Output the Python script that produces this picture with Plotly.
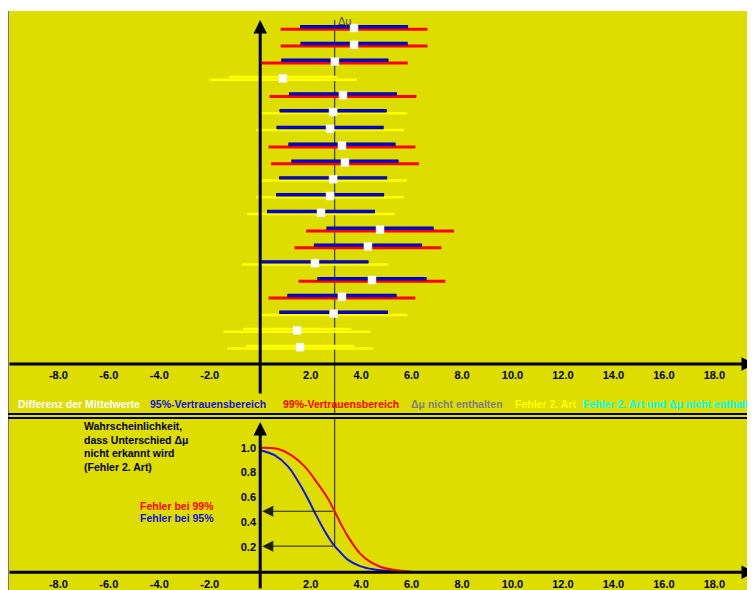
import plotly.graph_objects as go

# The page body keeps its default 8 px margin; the figure is offset by it.
PAGE_W, PAGE_H = 755, 590
OFF = 8
W, H = PAGE_W, PAGE_H   # figure size (slightly larger than the visible part)

# ---------------- data ----------------
DELTA_MU = 2.95
sample = list(range(1, 21))
means = [3.72, 3.72, 2.96, 0.90, 3.28, 2.89, 2.77, 3.24, 3.36, 2.89,
         2.77, 2.41, 4.75, 4.27, 2.17, 4.43, 3.24, 2.91, 1.46, 1.58]
lo95 = [1.58, 1.60, 0.84, -1.24, 1.14, 0.77, 0.65, 1.12, 1.24, 0.75,
        0.63, 0.27, 2.63, 2.13, 0.05, 2.27, 1.08, 0.76, -0.68, -0.56]
hi95 = [5.86, 5.84, 5.08, 3.04, 5.42, 5.01, 4.89, 5.36, 5.48, 5.03,
        4.91, 4.55, 6.87, 6.41, 4.29, 6.59, 5.40, 5.06, 3.60, 3.72]
lo99 = [0.81, 0.81, 0.07, -2.03, 0.37, -0.04, -0.16, 0.33, 0.43, -0.04,
        -0.16, -0.52, 1.82, 1.36, -0.74, 1.52, 0.33, -0.02, -1.45, -1.31]
hi99 = [6.63, 6.63, 5.85, 3.83, 6.19, 5.82, 5.70, 6.15, 6.29, 5.82,
        5.70, 5.34, 7.68, 7.18, 5.08, 7.34, 6.15, 5.84, 4.37, 4.47]

# type II error probability curves
dmu_99 = [0.0, 0.71, 1.23, 1.76, 2.29, 2.69, 2.95, 3.22, 3.48, 3.96, 4.35, 4.75, 5.28, 6.0]
p_99 = [1.0, 0.99, 0.94, 0.85, 0.71, 0.59, 0.49, 0.38, 0.286, 0.15, 0.085, 0.045, 0.02, 0.005]
dmu_95 = [0.0, 0.57, 1.10, 1.50, 1.89, 2.16, 2.56, 2.95, 3.16, 3.48, 3.96, 4.48, 5.14, 5.3]
p_95 = [0.98, 0.94, 0.85, 0.73, 0.59, 0.48, 0.33, 0.21, 0.165, 0.10, 0.05, 0.024, 0.008, 0.005]
P99_AT_DMU = 0.49
P95_AT_DMU = 0.21

xtick_vals = [-8, -6, -4, -2, 2, 4, 6, 8, 10, 12, 14, 16, 18]
xtick_text = ["-8.0", "-6.0", "-4.0", "-2.0", "2.0", "4.0", "6.0", "8.0",
              "10.0", "12.0", "14.0", "16.0", "18.0"]
ytick_vals = [0.2, 0.4, 0.6, 0.8, 1.0]
ytick_text = ["0.2", "0.4", "0.6", "0.8", "1.0"]

legend_items = ["Differenz der Mittelwerte", "95%-Vertrauensbereich", "99%-Vertrauensbereich",
                "Δμ nicht enthalten", "Fehler 2. Art", "Fehler 2. Art und Δμ nicht enthalten"]

# ---------------- style / geometry (page pixels) ----------------
BG = "#dddd00"
BLUE = "#0000ff"
RED = "#ff0000"
YEL = "#ffff00"
GRAY = "#808080"
CYAN = "#00ffff"
legend_colors = ["#ffffff", "#1414d8", RED, GRAY, YEL, CYAN]
legend_x_px = [16, 148, 281, 409, 513, 581]
FONT = "Liberation Sans"

X0_PX = 260.2          # page pixel of x = 0
X_SCALE = 25.23        # pixels per unit
xr = [(OFF - X0_PX) / X_SCALE, (PAGE_W - X0_PX) / X_SCALE]

ROW_PX = 16.8
AX_TOP_PX = 364
TOP_DOM_PX = (11, 414)
yr_top = [(AX_TOP_PX - TOP_DOM_PX[1]) / ROW_PX, (AX_TOP_PX - TOP_DOM_PX[0]) / ROW_PX]

P0_PX = 572.3
P_SCALE = 124.6
BOT_DOM_PX = (418, PAGE_H)
yr_bot = [(P0_PX - BOT_DOM_PX[1]) / P_SCALE, (P0_PX - BOT_DOM_PX[0]) / P_SCALE]


def fx(px):
    return (px - OFF) / W


def fy(px):
    return 1 - (px - OFF) / H


def vrow(px):
    return (AX_TOP_PX - px) / ROW_PX


def vp(px):
    return (P0_PX - px) / P_SCALE


def seg_color(lo, hi, base):
    has0 = lo <= 0 <= hi
    hasd = lo <= DELTA_MU <= hi
    if has0 and not hasd:
        return CYAN
    if has0:
        return YEL
    if not hasd:
        return GRAY
    return base


row_y = [21 - s for s in sample]
off = 1.3 / ROW_PX

groups = {}
for y, a, b, c, d in zip(row_y, lo95, hi95, lo99, hi99):
    for lo, hi, base, dy in ((c, d, RED, -off), (a, b, BLUE, off)):
        col = seg_color(lo, hi, base)
        g = groups.setdefault(col, ([], []))
        g[0].extend([lo, hi, None])
        g[1].extend([y + dy, y + dy, None])

fig = go.Figure()

order = [YEL, GRAY, CYAN, RED, BLUE]
for col in order:
    if col not in groups:
        continue
    xs, ys = groups[col]
    if col == BLUE:
        fig.add_trace(go.Scatter(x=xs, y=ys, mode="lines", line=dict(color="#000070", width=3.4),
                                 hoverinfo="skip", showlegend=False))
        fig.add_trace(go.Scatter(x=xs, y=ys, mode="lines", line=dict(color=BLUE, width=1.8),
                                 hoverinfo="skip", showlegend=False))
    else:
        fig.add_trace(go.Scatter(x=xs, y=ys, mode="lines",
                                 line=dict(color=col, width=2.5 if col == YEL else 3),
                                 hoverinfo="skip", showlegend=False))

fig.add_trace(go.Scatter(x=means, y=row_y, mode="markers",
                         marker=dict(symbol="square", size=8, color="white",
                                     line=dict(color="#eeeeee", width=0.5)),
                         showlegend=False))

# bottom curves
fig.add_trace(go.Scatter(x=dmu_99, y=p_99, mode="lines", line=dict(color=RED, width=2, shape="spline"),
                         xaxis="x2", yaxis="y2", showlegend=False))
fig.add_trace(go.Scatter(x=dmu_95, y=p_95, mode="lines", line=dict(color="#1010ff", width=2, shape="spline"),
                         xaxis="x2", yaxis="y2", showlegend=False))

tickfont = dict(family=FONT, size=11, color="black", weight="bold")

fig.update_layout(
    width=W, height=H,
    margin=dict(l=0, r=0, t=0, b=0),
    paper_bgcolor="white",
    plot_bgcolor="rgba(0,0,0,0)",
    showlegend=False,
    xaxis=dict(domain=[0, fx(PAGE_W)], range=xr, anchor="free", position=fy(AX_TOP_PX),
               showgrid=False, zeroline=False, showline=False,
               tickvals=xtick_vals, ticktext=xtick_text, tickfont=tickfont,
               ticks="outside", ticklen=1, tickcolor="rgba(0,0,0,0)"),
    yaxis=dict(domain=[fy(TOP_DOM_PX[1]), fy(TOP_DOM_PX[0])], range=yr_top, visible=False),
    xaxis2=dict(domain=[0, fx(PAGE_W)], range=xr, anchor="free", position=fy(P0_PX),
                showgrid=False, zeroline=False, showline=False,
                tickvals=xtick_vals, ticktext=xtick_text, tickfont=tickfont,
                ticks="outside", ticklen=1, tickcolor="rgba(0,0,0,0)"),
    yaxis2=dict(domain=[fy(BOT_DOM_PX[1]), fy(BOT_DOM_PX[0])], range=yr_bot, anchor="free",
                position=fx(X0_PX), showgrid=False, zeroline=False, showline=False,
                tickvals=ytick_vals, ticktext=ytick_text, tickfont=tickfont,
                ticks="outside", ticklen=2, tickcolor="rgba(0,0,0,0)"),
)

shapes = []
# yellow background (covers the whole visible area below the top band)
shapes.append(dict(type="rect", xref="paper", yref="paper", x0=0, x1=1,
                   y0=0, y1=fy(11), fillcolor=BG, line=dict(width=0), layer="below"))
shapes.append(dict(type="line", xref="paper", yref="paper", x0=0.5 / W, x1=0.5 / W,
                   y0=0, y1=fy(11), line=dict(color="#777777", width=1), layer="below"))
# separator double line
for ypx in (414, 418):
    shapes.append(dict(type="line", xref="paper", yref="paper", x0=0, x1=1,
                       y0=fy(ypx), y1=fy(ypx), line=dict(color="black", width=2)))
# delta mu line
shapes.append(dict(type="line", xref="x", yref="y", x0=DELTA_MU, x1=DELTA_MU,
                   y0=yr_top[0], y1=vrow(20), line=dict(color="#3a3a10", width=1.2), layer="below"))
shapes.append(dict(type="line", xref="x2", yref="y2", x0=DELTA_MU, x1=DELTA_MU,
                   y0=P95_AT_DMU, y1=yr_bot[1], line=dict(color="#3a3a10", width=1.2), layer="below"))
fig.update_layout(shapes=shapes)

ann = []
# axes with arrows
ann.append(dict(xref="x", yref="y", axref="x", ayref="y", x=xr[1], y=0, ax=xr[0], ay=0,
                text="", showarrow=True, arrowhead=2, arrowwidth=3, arrowsize=0.9, arrowcolor="black"))
ann.append(dict(xref="x", yref="y", axref="x", ayref="y", x=0, y=vrow(20), ax=0, ay=vrow(395),
                text="", showarrow=True, arrowhead=2, arrowwidth=3, arrowsize=0.9, arrowcolor="black"))
ann.append(dict(xref="x2", yref="y2", axref="x2", ayref="y2", x=xr[1], y=0, ax=xr[0], ay=0,
                text="", showarrow=True, arrowhead=2, arrowwidth=3, arrowsize=0.9, arrowcolor="black"))
ann.append(dict(xref="x2", yref="y2", axref="x2", ayref="y2", x=0, y=vp(422), ax=0, ay=yr_bot[0],
                text="", showarrow=True, arrowhead=2, arrowwidth=3, arrowsize=0.9, arrowcolor="black"))
# reading arrows in bottom panel
for pv in (P99_AT_DMU, P95_AT_DMU):
    ann.append(dict(xref="x2", yref="y2", axref="x2", ayref="y2", x=0.08, y=pv, ax=DELTA_MU, ay=pv,
                    text="", showarrow=True, arrowhead=2, arrowwidth=1, arrowsize=2.2,
                    arrowcolor="#202000"))
# Δμ label
ann.append(dict(xref="x", yref="paper", x=DELTA_MU + 0.04, y=fy(21), text="Δμ", showarrow=False,
                xanchor="left", yanchor="middle", font=dict(family=FONT, size=11, color="#4a4a30")))
# x labels at the arrow ends
for ypx in (384, 594):
    ann.append(dict(xref="paper", yref="paper", x=fx(749), y=fy(ypx), text="<b>x</b>", showarrow=False,
                    xanchor="left", yanchor="middle", font=dict(family=FONT, size=11, color="black")))
# legend line
for txt, col, xp in zip(legend_items, legend_colors, legend_x_px):
    ann.append(dict(xref="paper", yref="paper", x=fx(xp), y=fy(404), text="<b>" + txt + "</b>",
                    showarrow=False, xanchor="left", yanchor="middle",
                    font=dict(family=FONT, size=10.5, color=col)))
# bottom-left description
desc = "<b>Wahrscheinlichkeit,<br>dass Unterschied Δμ<br>nicht erkannt wird<br>(Fehler 2. Art)</b>"
ann.append(dict(xref="paper", yref="paper", x=fx(82), y=fy(418), text=desc, showarrow=False,
                xanchor="left", yanchor="top", align="left",
                font=dict(family=FONT, size=10.5, color="black")))
ann.append(dict(xref="paper", yref="paper", x=fx(138), y=fy(506), text="<b>Fehler bei 99%</b>",
                showarrow=False, xanchor="left", yanchor="middle", font=dict(family=FONT, size=10.5, color=RED)))
ann.append(dict(xref="paper", yref="paper", x=fx(138), y=fy(518), text="<b>Fehler bei 95%</b>",
                showarrow=False, xanchor="left", yanchor="middle", font=dict(family=FONT, size=10.5, color="#1414d8")))
fig.update_layout(annotations=ann)

fig.write_html("out.html", config={"displayModeBar": False})
